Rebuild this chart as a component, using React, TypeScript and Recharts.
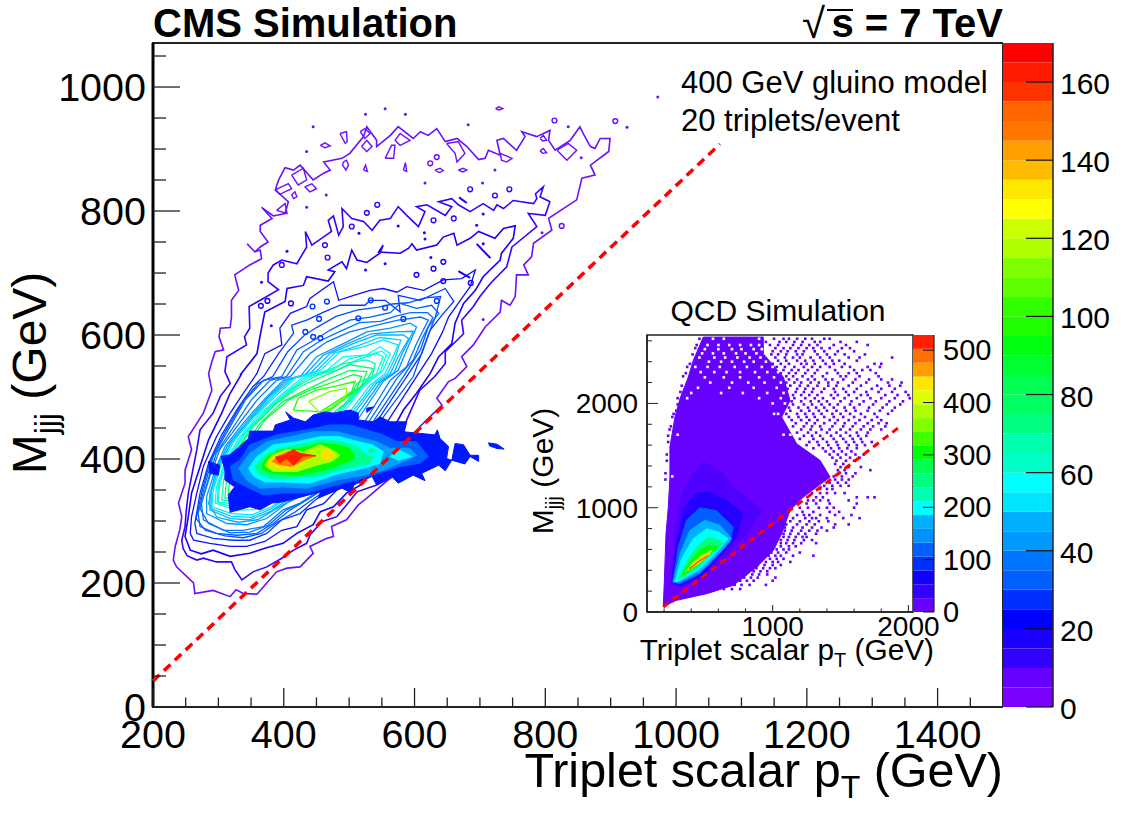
import { Bar, BarChart, ReferenceArea, Scatter, ScatterChart, XAxis, YAxis } from "recharts";

const FONT = "'Liberation Sans', Arial, sans-serif";

// ---- main panel axes
const xTicks = [200, 250, 300, 350, 400, 450, 500, 550, 600, 650, 700, 750, 800, 850, 900, 950, 1000, 1050, 1100, 1150, 1200, 1250, 1300, 1350, 1400, 1450];
const xLabels = [200, 400, 600, 800, 1000, 1200, 1400];
const yTicks = [0, 50, 100, 150, 200, 250, 300, 350, 400, 450, 500, 550, 600, 650, 700, 750, 800, 850, 900, 950, 1000, 1050];
const yLabels = [0, 200, 400, 600, 800, 1000];
const cutLine = [[200, 42], [1067, 908]];

// ---- main panel contours, x = pT (GeV), y = Mjjj (GeV)
const contour5 = [[563, 369], [547, 355], [527, 337], [514, 326], [496, 302], [473, 291], [476, 275], [466, 272], [440, 259], [445, 248], [425, 226], [405, 224], [389, 218], [369, 194], [359, 182], [338, 183], [327, 189], [318, 178], [292, 188], [264, 183], [262, 200], [236, 226], [231, 237], [234, 259], [241, 286], [244, 307], [239, 329], [249, 361], [249, 382], [259, 415], [254, 436], [277, 474], [290, 511], [285, 538], [290, 557], [295, 573], [308, 576], [301, 597], [303, 611], [318, 612], [320, 629], [320, 656], [331, 672], [325, 697], [348, 713], [366, 723], [364, 737], [356, 734], [344, 747], [356, 734], [364, 742], [376, 750], [364, 767], [364, 777], [382, 788], [366, 806], [384, 792], [402, 796], [407, 815], [387, 834], [392, 850], [402, 870], [415, 866], [425, 874], [445, 850], [461, 861], [471, 866], [461, 879], [489, 885], [501, 893], [522, 920], [527, 936], [542, 914], [542, 904], [563, 922], [575, 936], [598, 917], [609, 928], [621, 922], [634, 933], [647, 912], [665, 917], [680, 904], [698, 883], [708, 885], [713, 898], [731, 890], [726, 914], [736, 917], [756, 898], [769, 920], [764, 928], [787, 920], [807, 930], [805, 914], [815, 898], [838, 914], [853, 936], [858, 925], [869, 904], [876, 901], [884, 917], [899, 917], [897, 896], [869, 874], [876, 858], [856, 853], [848, 818], [805, 788], [810, 769], [782, 748], [779, 726], [767, 713], [774, 697], [756, 697], [754, 662], [746, 648], [733, 656], [731, 637], [708, 613], [690, 584], [672, 565], [680, 549], [662, 530], [652, 525], [634, 498], [642, 487], [608, 452], [588, 398]];
const contour10 = [[568, 372], [542, 358], [512, 347], [496, 326], [481, 307], [458, 299], [440, 277], [435, 264], [415, 253], [397, 240], [374, 226], [353, 218], [336, 205], [325, 222], [320, 234], [297, 234], [277, 240], [267, 237], [252, 244], [246, 256], [244, 269], [249, 291], [251, 318], [254, 345], [262, 388], [267, 415], [272, 447], [292, 474], [303, 501], [318, 522], [310, 541], [313, 565], [343, 584], [340, 597], [348, 611], [347, 646], [364, 656], [392, 673], [376, 686], [376, 700], [384, 713], [397, 721], [420, 715], [435, 742], [433, 767], [443, 745], [473, 767], [468, 785], [476, 792], [484, 761], [491, 775], [489, 804], [504, 788], [522, 783], [535, 769], [547, 785], [563, 788], [575, 807], [588, 793], [606, 775], [616, 799], [603, 807], [619, 810], [647, 793], [657, 807], [637, 815], [657, 820], [667, 810], [685, 799], [705, 812], [721, 801], [726, 810], [736, 804], [751, 817], [782, 812], [787, 820], [785, 828], [797, 839], [792, 823], [807, 815], [800, 793], [774, 796], [787, 775], [756, 748], [749, 742], [741, 710], [716, 683], [700, 662], [690, 646], [672, 624], [675, 602], [647, 573], [647, 554], [631, 533], [608, 511], [588, 463]];
const contour15 = [[522, 361], [496, 345], [476, 323], [456, 315], [445, 294], [420, 280], [399, 264], [371, 256], [348, 248], [318, 243], [292, 253], [274, 247], [257, 253], [249, 275], [254, 307], [259, 345], [272, 388], [285, 431], [305, 474], [318, 506], [336, 538], [333, 535], [359, 570], [364, 600], [371, 637], [402, 654], [405, 675], [430, 680], [435, 694], [468, 687], [478, 702], [468, 705], [489, 718], [496, 707], [504, 737], [512, 721], [527, 717], [547, 732], [552, 745], [545, 734], [578, 732], [591, 740], [596, 747], [603, 737], [634, 745], [644, 758], [660, 764], [665, 745], [685, 756], [698, 767], [723, 756], [736, 772], [754, 776], [751, 756], [733, 732], [731, 721], [705, 694], [693, 672], [675, 651], [662, 619], [657, 586], [637, 565], [624, 538], [603, 506], [583, 479]];
const contour20 = [[359, 538], [371, 570], [397, 584], [394, 611], [410, 635], [435, 646], [440, 659], [476, 686], [484, 656], [507, 664], [532, 672], [552, 675], [573, 669], [588, 678], [614, 672], [644, 689], [672, 691], [693, 705], [685, 678], [670, 656], [652, 629], [642, 603], [626, 570], [603, 533], [501, 366], [481, 350], [461, 328], [435, 318], [420, 291], [397, 285], [371, 267], [343, 259], [318, 259], [287, 264], [262, 269], [257, 280], [259, 307], [267, 345], [277, 388], [297, 436], [318, 474], [338, 506]];
const contour25 = [[369, 533], [392, 570], [415, 603], [412, 616], [435, 624], [461, 637], [486, 648], [524, 648], [532, 656], [555, 656], [578, 637], [575, 664], [609, 656], [647, 675], [660, 654], [642, 632], [624, 608], [611, 570], [588, 533], [476, 355], [445, 331], [425, 312], [397, 302], [374, 280], [348, 269], [323, 269], [292, 272], [267, 280], [264, 296], [272, 345], [285, 393], [305, 439], [331, 484], [353, 517]];
const contour27 = [[383, 533], [406, 573], [432, 600], [450, 612], [480, 630], [512, 640], [545, 645], [566, 650], [590, 652], [616, 660], [640, 662], [632, 630], [618, 592], [598, 533], [474, 356], [440, 332], [418, 315], [390, 298], [366, 280], [338, 273], [310, 276], [280, 285], [266, 304], [276, 353], [288, 398], [310, 443], [336, 490], [361, 522]];
const contour30 = [[397, 533], [420, 576], [450, 594], [471, 608], [501, 624], [532, 629], [563, 636], [578, 651], [603, 643], [626, 648], [637, 635], [621, 613], [609, 576], [583, 533], [471, 358], [435, 334], [410, 318], [384, 296], [359, 280], [328, 277], [297, 280], [272, 291], [269, 312], [280, 361], [292, 404], [315, 447], [341, 495], [369, 527]];
const contour32 = [[404, 533], [430, 573], [458, 592], [486, 606], [516, 620], [548, 622], [570, 630], [594, 636], [620, 636], [628, 628], [612, 595], [598, 560], [573, 530], [466, 355], [430, 331], [404, 318], [376, 293], [348, 282], [318, 281], [285, 296], [272, 320], [284, 366], [297, 410], [322, 450], [350, 495], [379, 527]];
const contour35 = [[410, 533], [440, 570], [466, 589], [501, 605], [542, 616], [575, 624], [609, 629], [621, 624], [603, 586], [588, 549], [563, 527], [461, 353], [425, 329], [399, 318], [369, 291], [338, 285], [308, 285], [277, 302], [274, 329], [287, 372], [302, 415], [328, 452], [359, 495], [389, 527]];
const contour40 = [[425, 533], [450, 565], [491, 586], [527, 605], [563, 611], [593, 619], [603, 613], [588, 576], [575, 543], [552, 525], [440, 347], [405, 329], [374, 304], [343, 294], [313, 296], [282, 312], [282, 339], [295, 382], [310, 420], [338, 458], [369, 495], [399, 527]];
const contour42 = [[432, 535], [460, 567], [498, 586], [534, 602], [572, 605], [598, 606], [581, 570], [569, 540], [547, 523], [425, 342], [392, 322], [360, 302], [330, 298], [298, 306], [285, 328], [297, 385], [314, 422], [343, 460], [374, 498], [404, 528]];
const contour45 = [[440, 538], [471, 570], [506, 586], [542, 600], [583, 600], [591, 594], [575, 565], [563, 538], [542, 522], [410, 337], [379, 315], [348, 302], [318, 304], [287, 318], [287, 345], [300, 388], [318, 425], [348, 463], [379, 501], [410, 530]];
const contour47 = [[448, 540], [478, 571], [514, 583], [547, 596], [579, 592], [570, 562], [559, 538], [537, 520], [407, 340], [380, 319], [350, 306], [319, 308], [289, 320], [289, 347], [302, 390], [321, 428], [350, 464], [384, 502], [415, 531]];
const contour50 = [[456, 543], [486, 573], [522, 581], [552, 592], [575, 584], [565, 560], [555, 538], [532, 519], [404, 342], [382, 323], [351, 310], [320, 312], [290, 323], [292, 350], [305, 393], [325, 431], [353, 466], [389, 503], [420, 533]];
const contour55 = [[466, 543], [491, 565], [527, 568], [547, 581], [563, 570], [552, 543], [522, 517], [384, 331], [353, 318], [325, 318], [295, 329], [297, 355], [310, 396], [333, 436], [364, 474], [399, 506], [430, 533]];
const contour57 = [[473, 543], [501, 562], [534, 569], [550, 574], [557, 568], [547, 540], [518, 515], [372, 330], [342, 322], [314, 325], [298, 330], [300, 358], [312, 397], [337, 438], [369, 476], [404, 508], [435, 533]];
const contour60 = [[481, 543], [512, 560], [542, 570], [552, 565], [542, 538], [514, 514], [359, 328], [331, 326], [300, 331], [302, 361], [315, 398], [341, 441], [374, 479], [410, 511], [440, 533]];
const contour65 = [[456, 538], [491, 554], [527, 560], [540, 554], [535, 533], [512, 522], [496, 490], [359, 337], [333, 331], [305, 334], [308, 366], [320, 401], [348, 447], [382, 484], [420, 517]];
const contour70 = [[466, 536], [501, 552], [537, 546], [527, 527], [501, 495], [481, 479], [336, 337], [310, 337], [313, 372], [325, 406], [353, 452], [389, 490], [425, 517]];
const contour75 = [[471, 530], [501, 543], [527, 541], [519, 517], [491, 495], [468, 476], [331, 342], [315, 342], [318, 374], [333, 409], [364, 458], [399, 493], [433, 511]];
const contour80 = [[478, 525], [506, 536], [519, 533], [512, 514], [486, 493], [323, 361], [341, 415], [371, 463], [407, 495], [440, 511]];
const contour85 = [[486, 519], [509, 525], [504, 509], [481, 493], [456, 476], [415, 479], [422, 498], [450, 511]];
const contour90 = [[438, 493], [471, 509], [496, 514], [496, 501], [471, 482], [456, 474]];
const contourTraces = [contour5, contour10, contour15, contour20, contour25, contour27, contour30, contour32, contour35, contour40, contour42, contour45, contour47, contour50, contour55, contour57, contour60, contour65, contour70, contour75, contour80, contour85, contour90];
const contourColors = ["#6a10ff", "#3a00ff", "#1c00ff", "#0a10ff", "#0038ff", "#0050ff", "#0060ff", "#0070ff", "#0078ff", "#0098ff", "#00a8ff", "#00b8ff", "#00d0ff", "#00e5ff", "#00ffff", "#00ffe0", "#00ffc8", "#00ffb0", "#00ff80", "#00ff60", "#00ff30", "#20ff00", "#80ff00"];

// closed islands at the lowest level
const islands5 = [
  [[486, 925], [496, 928], [497, 912], [494, 909]],
  [[517, 928], [524, 933], [532, 925], [524, 917]],
  [[519, 904], [527, 914], [535, 904], [527, 896]],
  [[570, 914], [578, 925], [593, 914], [578, 906]],
  [[555, 885], [565, 906], [570, 906], [568, 885]],
  [[649, 909], [667, 912], [677, 893], [665, 879], [662, 893]],
  [[731, 893], [749, 885], [741, 879], [733, 882]],
  [[818, 898], [835, 909], [848, 898], [833, 882]],
  [[412, 858], [430, 869], [435, 850], [422, 842]],
  [[387, 834], [407, 844], [412, 836], [394, 827]],
  [[432, 839], [443, 844], [450, 836], [440, 831]],
  [[412, 826], [417, 831], [420, 823], [415, 820]],
  [[389, 801], [402, 812], [405, 796]],
  [[456, 906], [463, 910], [471, 905], [463, 902]],
  [[491, 879], [496, 882], [499, 874], [495, 866], [490, 874]],
  [[522, 866], [525, 874], [528, 864]],
  [[583, 866], [586, 878], [588, 864]],
  [[631, 866], [639, 869], [644, 865], [638, 862]],
  [[667, 866], [674, 869], [680, 866], [674, 863]],
  [[792, 897], [797, 901], [802, 894], [796, 893]],
  [[792, 917], [797, 922], [802, 914], [796, 913]],
  [[724, 965], [729, 968], [735, 965], [729, 963]],
];
const rings5 = [[814, 946], [907, 945], [825, 776], [624, 877], [634, 887]];
const dots5 = [[525, 956], [555, 965], [586, 956], [925, 935], [682, 939], [435, 896], [445, 936], [835, 936], [855, 886], [723, 866], [465, 826], [435, 806], [972, 984], [705, 625], [795, 765], [616, 845], [704, 845]];
const rings10 = [[463, 745], [467, 725], [504, 775], [527, 797], [543, 810], [629, 785], [660, 788], [723, 825], [685, 835], [745, 835], [397, 713]];
const rings15 = [[603, 697], [629, 707], [644, 718], [644, 687], [686, 684], [365, 647], [375, 655], [411, 651]];
const rings25 = [[444, 646], [466, 654], [514, 627], [555, 644], [533, 656], [583, 626], [634, 655], [433, 605], [445, 597], [456, 595], [454, 626]];
const dots15 = [[705, 795], [695, 777], [615, 765], [616, 755], [575, 776], [515, 764], [405, 735], [555, 715], [525, 705], [625, 725], [705, 747], [366, 685], [381, 615]];
const strokes10 = [[[695, 747], [716, 724]], [[667, 703], [685, 692]], [[668, 822], [680, 813]]];

// ---- filled contours of the correct-triplet sample, outermost first
const blobOuter = [[304, 404], [318, 407], [346, 433], [348, 445], [384, 445], [387, 455], [410, 463], [403, 476], [415, 466], [433, 460], [445, 471], [463, 476], [476, 474], [501, 479], [514, 474], [514, 463], [537, 460], [547, 468], [563, 460], [588, 460], [583, 444], [631, 439], [635, 447], [639, 433], [652, 420], [649, 401], [657, 398], [662, 425], [675, 423], [685, 406], [698, 406], [698, 396], [685, 404], [677, 392], [657, 398], [647, 381], [637, 390], [611, 377], [616, 365], [598, 374], [575, 361], [565, 372], [542, 358], [535, 372], [507, 358], [504, 345], [489, 353], [453, 337], [456, 347], [399, 331], [382, 329], [364, 318], [348, 323], [318, 314], [315, 342], [325, 355], [310, 366], [310, 382]];
const blobIsland1 = [[713, 426], [726, 424], [737, 416], [726, 417], [715, 421]];
const blobIsland2 = [[285, 396], [302, 390], [300, 374], [287, 377]];
const blobIsland3 = [[527, 482], [537, 484], [527, 475]];
const blob2 = [[318, 388], [333, 398], [348, 423], [389, 439], [435, 447], [471, 455], [501, 455], [527, 447], [552, 439], [573, 428], [603, 428], [621, 404], [608, 393], [578, 388], [512, 366], [481, 358], [435, 345], [399, 345], [369, 342], [343, 355], [323, 366]];
const blob3 = [[331, 385], [348, 409], [374, 428], [410, 436], [445, 444], [481, 444], [512, 436], [542, 428], [563, 417], [593, 417], [603, 406], [583, 396], [552, 382], [522, 374], [481, 366], [435, 353], [399, 355], [364, 353], [343, 366]];
const blob4 = [[346, 385], [359, 404], [384, 423], [420, 428], [456, 436], [486, 436], [514, 428], [535, 423], [552, 412], [547, 393], [522, 385], [486, 377], [440, 361], [399, 363], [371, 363], [354, 372]];
const blob4b = [[563, 404], [575, 415], [596, 404], [575, 398]];
const blob5 = [[356, 388], [369, 404], [392, 417], [425, 423], [456, 431], [486, 428], [512, 420], [527, 406], [537, 404], [532, 393], [496, 385], [450, 372], [410, 369], [379, 369], [361, 377]];
const blob5b = [[529, 415], [537, 417], [540, 412], [532, 409]];
const blob6 = [[366, 388], [374, 404], [397, 415], [425, 417], [456, 425], [481, 423], [501, 417], [509, 401], [499, 396], [461, 382], [420, 374], [384, 377], [369, 382]];
const blob7 = [[371, 390], [382, 406], [404, 415], [430, 412], [456, 423], [473, 415], [486, 406], [473, 396], [450, 390], [420, 380], [384, 380]];
const blob8 = [[374, 393], [384, 404], [404, 412], [425, 409], [440, 401], [415, 385], [392, 385]];
const blob8b = [[461, 415], [468, 417], [478, 406], [466, 398], [458, 404]];
const blob9 = [[382, 396], [392, 405], [407, 412], [422, 410], [448, 405], [430, 398], [412, 388], [394, 391]];
const blob10 = [[387, 403], [399, 406], [415, 415], [425, 409], [449, 405], [430, 405], [415, 390], [404, 401], [394, 393]];
const blobTraces = [blobOuter, blobIsland1, blobIsland2, blobIsland3, blob2, blob3, blob4, blob4b, blob5, blob5b, blob6, blob7, blob8, blob8b, blob9, blob10];
const blobColors = ["#0018ff", "#0018ff", "#0018ff", "#0018ff", "#0060ff", "#00a0ff", "#00ffff", "#00ffff", "#00ff90", "#00ff90", "#00ff00", "#b0ff00", "#ffe000", "#ffe000", "#ff8000", "#ff2000"];

// ---- main palette, bottom to top
const paletteColors = ["#7a00ff", "#6600ff", "#3300ff", "#1a00ff", "#0000ff", "#0030ff", "#0060ff", "#0075ff", "#0099ff", "#00b0ff", "#00e5ff", "#00ffff", "#00ffc8", "#00ffb0", "#00ff80", "#00ff60", "#00ff50", "#00ff30", "#00ff10", "#20ff00", "#30ff00", "#60ff00", "#80ff00", "#b0ff00", "#ccff00", "#ffff00", "#ffe800", "#ffbb00", "#ff9f00", "#ff7700", "#ff6600", "#ff3300", "#ff1a00", "#ff0000"];
const paletteStep = 5;
const paletteTicks = [0, 20, 40, 60, 80, 100, 120, 140, 160];

// ---- inset
const insetXTicks = [200, 400, 600, 800, 1000, 1200, 1400, 1600, 1800, 2000];
const insetXLabels = [1000, 2000];
const insetYTicks = [0, 200, 400, 600, 800, 1000, 1200, 1400, 1600, 1800, 2000, 2200, 2400, 2600];
const insetYLabels = [0, 1000, 2000];
const insetCut = [[194, 48], [1943, 1783]];
const insetBands = [
  [[194, 54], [201, 272], [214, 751], [231, 1006], [243, 1294], [243, 1582], [280, 1869], [317, 2045], [378, 2252], [415, 2412], [489, 2636], [931, 2636], [931, 2476], [1079, 2252], [1128, 2029], [1066, 1869], [1177, 1613], [1349, 1454], [1423, 1294], [1324, 1198], [1226, 1102], [1128, 974], [1066, 751], [1005, 591], [882, 431], [710, 256], [514, 176], [292, 112]],
  [[256, 272], [280, 751], [317, 1070], [391, 1294], [489, 1438], [612, 1358], [734, 1166], [931, 974], [784, 719], [661, 559], [489, 335], [317, 240]],
  [[256, 288], [292, 671], [341, 974], [427, 1134], [538, 1150], [661, 1070], [780, 940], [734, 719], [636, 575], [477, 351], [317, 256]],
  [[263, 288], [305, 623], [366, 879], [464, 1000], [587, 970], [710, 815], [685, 671], [587, 527], [464, 367], [317, 272]],
  [[268, 288], [317, 559], [391, 783], [501, 879], [612, 831], [698, 703], [612, 575], [477, 399], [317, 288]],
  [[280, 288], [329, 511], [415, 703], [513, 799], [600, 767], [673, 703], [600, 591], [464, 415], [317, 304]],
  [[305, 320], [366, 479], [440, 623], [526, 719], [612, 687], [636, 655], [563, 575], [452, 431], [341, 335]],
  [[329, 351], [391, 479], [464, 591], [538, 639], [600, 623], [538, 559], [440, 447], [353, 367]],
  [[353, 383], [415, 479], [477, 543], [550, 591], [526, 543], [427, 447]],
  [[370, 406], [427, 479], [501, 543], [538, 559], [452, 463]],
  [[385, 415], [464, 495], [526, 543], [452, 479]],
];
const insetBandColors = ["#6600ff", "#5000ff", "#2400ff", "#0060ff", "#00b0ff", "#00ffff", "#00ff80", "#00ff00", "#b0ff00", "#ffe000", "#ff4000"];
// [y, ...x] rows of single filled bins around the solid region
const speckRows = [
  [2620, 460, 720, 790, 860, 1010, 1080, 1120, 1180, 1240, 1290, 1380, 1420],
  [2590, 500, 950, 1050, 1100, 1160, 1220, 1310, 1350, 1500, 1620],
  [2560, 440, 980, 1040, 1150, 1210, 1270, 1330, 1450, 1540, 1700],
  [2530, 430, 1020, 1080, 1130, 1190, 1250, 1300, 1360, 1420, 1510, 1570],
  [2500, 1000, 1060, 1110, 1170, 1230, 1310, 1380, 1480, 1600],
  [2470, 410, 990, 1040, 1100, 1180, 1220, 1330, 1400, 1460, 1530, 1680],
  [2440, 1020, 1090, 1150, 1200, 1280, 1350, 1420, 1560, 1640, 1880],
  [2410, 1040, 1100, 1180, 1240, 1300, 1370, 1440, 1490, 1620],
  [2380, 390, 1000, 1060, 1120, 1210, 1250, 1310, 1390, 1450, 1530, 1750, 1800],
  [2350, 370, 1030, 1090, 1160, 1230, 1290, 1350, 1420, 1510, 1570, 1700, 1790],
  [2320, 1010, 1080, 1140, 1190, 1260, 1330, 1460, 1600, 1660, 1720],
  [2290, 360, 1060, 1120, 1170, 1240, 1310, 1400, 1480, 1560, 1620, 1760],
  [2260, 340, 1030, 1100, 1150, 1220, 1290, 1370, 1500, 1540, 1640, 1780],
  [2230, 1120, 1180, 1260, 1310, 1390, 1440, 1520, 1610, 1710, 1800, 1880],
  [2200, 1100, 1160, 1210, 1280, 1340, 1410, 1480, 1590, 1690, 1850, 1950],
  [2170, 330, 1130, 1200, 1260, 1330, 1410, 1470, 1560, 1650, 1770, 1860, 1940],
  [2140, 1110, 1180, 1240, 1300, 1380, 1450, 1520, 1620, 1730, 1800, 1900],
  [2110, 320, 1170, 1230, 1290, 1360, 1460, 1540, 1600, 1690, 1780, 1880, 1980],
  [2080, 340, 1150, 1210, 1270, 1330, 1430, 1480, 1560, 1650, 1700, 1830, 1920, 2000],
  [2050, 300, 1160, 1240, 1310, 1370, 1450, 1530, 1620, 1720, 1800, 1900, 2010],
  [2020, 1140, 1210, 1280, 1340, 1400, 1500, 1580, 1670, 1760, 1860, 1960],
  [1990, 300, 1150, 1230, 1290, 1360, 1420, 1480, 1570, 1640, 1740, 1840, 1940],
  [1960, 1120, 1190, 1260, 1320, 1380, 1450, 1530, 1600, 1710, 1810, 1900],
  [1930, 290, 1130, 1210, 1270, 1340, 1400, 1470, 1540, 1610, 1700, 1790, 1880],
  [1900, 270, 1100, 1180, 1240, 1300, 1360, 1440, 1500, 1570, 1650, 1750, 1850],
  [1870, 260, 1120, 1190, 1250, 1310, 1380, 1450, 1520, 1600, 1680, 1770],
  [1840, 1140, 1210, 1270, 1330, 1420, 1480, 1560, 1640, 1730, 1800],
  [1810, 1170, 1250, 1310, 1380, 1460, 1530, 1610, 1700, 1780, 1840],
  [1780, 250, 1150, 1230, 1290, 1350, 1440, 1520, 1590, 1670, 1740, 1830],
  [1750, 240, 1210, 1280, 1360, 1420, 1500, 1570, 1650, 1720, 1800],
  [1720, 1180, 1260, 1320, 1400, 1470, 1540, 1620, 1700],
  [1690, 230, 1230, 1290, 1350, 1430, 1500, 1570, 1630, 1690],
  [1660, 1200, 1300, 1370, 1450, 1520, 1590, 1650],
  [1630, 230, 1270, 1330, 1400, 1470, 1540, 1600, 1660, 1730],
  [1600, 1250, 1340, 1410, 1480, 1560, 1620, 1680],
  [1570, 1300, 1370, 1430, 1490, 1550, 1620],
  [1540, 1390, 1450, 1510, 1580],
  [1510, 220, 1420, 1480, 1540, 1610, 1670],
  [1480, 1440, 1500, 1570, 1640],
  [1450, 220, 1470, 1540, 1600],
  [1420, 1460, 1520],
  [1390, 1500, 1560, 1650],
  [1360, 1480, 1530, 1720],
  [1330, 210, 1490, 1540, 1610],
  [1300, 1450, 1510, 1590],
  [1270, 210, 1460, 1510, 1560],
  [1240, 1420, 1480, 1540],
  [1210, 1380, 1440, 1500, 1560],
  [1180, 1350, 1400, 1440],
  [1140, 1290, 1350, 1400, 1460, 1530],
  [1100, 1320, 1370, 1620, 1700, 1750],
  [1070, 1260, 1300, 1350, 1410, 1560],
  [1040, 1250, 1320, 1420, 1620],
  [1000, 1200, 1260, 1340, 1400, 1450, 1600],
  [960, 1220, 1300, 1420, 1490],
  [930, 1180, 1230, 1270, 1350, 1460, 1580],
  [900, 1150, 1240, 1290, 1320, 1400, 1520, 1640],
  [870, 1130, 1200, 1270, 1340, 1410],
  [840, 1100, 1180, 1250, 1310, 1460, 1560],
  [810, 1090, 1150, 1220, 1290, 1360, 1450],
  [780, 1090, 1140, 1210, 1270, 1330, 1400],
  [750, 1080, 1130, 1190, 1240, 1320],
  [720, 1080, 1120, 1170, 1220, 1250],
  [690, 1060, 1110, 1160, 1230, 1290],
  [660, 1020, 1060, 1100, 1150, 1210, 1320],
  [630, 1010, 1060, 1120, 1170],
  [600, 980, 1030, 1080, 1120],
  [570, 990, 1040, 1100, 1200],
  [540, 970, 1020, 1060, 1150, 1300],
  [510, 920, 980, 1030, 1080],
  [480, 900, 950, 1000, 1040, 1130],
  [450, 890, 940, 1000, 1060],
  [420, 880, 930, 980, 1020],
  [390, 860, 910, 960],
  [360, 800, 850, 900, 960],
  [330, 790, 840, 890, 1020],
  [300, 760, 810, 860, 1000],
  [260, 720, 770, 830, 950],
  [220, 640, 700, 760],
];
const holeRows = [
  [2620, 560, 640, 900],
  [2560, 520, 600, 680, 760, 840, 900],
  [2520, 500, 600, 700, 770, 860, 920],
  [2480, 480, 560, 640, 730, 800, 880],
  [2440, 460, 570, 650, 740, 830, 910, 990],
  [2400, 530, 620, 700, 790, 860, 950],
  [2350, 430, 520, 610, 720, 810, 920, 1000],
  [2300, 470, 570, 660, 760, 870, 960, 1040],
  [2250, 500, 640, 760, 900, 1010],
  [2200, 540, 700, 820, 940, 1060],
  [2150, 450, 680, 860, 1030],
  [2100, 400, 620, 780, 960, 1080],
  [2050, 370, 900, 1060],
  [2000, 1000, 1090],
  [1900, 1010, 1040],
  [1700, 300, 1080, 1130],
  [1300, 260],
];
const insetPaletteColors = ["#6600ff", "#3300ff", "#1000ff", "#0030ff", "#0060ff", "#0090ff", "#00b0ff", "#00ffff", "#00ffb0", "#00ff80", "#00ff50", "#00ff00", "#40ff00", "#80ff00", "#b0ff00", "#dfff00", "#ffe800", "#ffa000", "#ff7000", "#ff2000"];
const insetPaletteStep = 26.45;
const insetPaletteTicks = [0, 100, 200, 300, 400, 500];

const toPoints = (arr: number[][]) => arr.map(([x, y]) => ({ x, y }));
const closed = (arr: number[][]) => toPoints([...arr, arr[0]]);
const rowsToPoints = (rows: number[][]) =>
  rows.flatMap(([y, ...xs]) => xs.map((x) => ({ x, y })));

const noDot = () => <g />;
const ring = (color: string) => (p: any) => (
  <circle cx={p.cx} cy={p.cy} r={2.4} fill="none" stroke={color} strokeWidth={1.4} />
);
const dot = (color: string) => (p: any) => <circle cx={p.cx} cy={p.cy} r={1.5} fill={color} />;
const bin = (color: string) => (p: any) => (
  <rect x={p.cx - 1.3} y={p.cy - 1.3} width={2.6} height={2.6} fill={color} />
);

function MainXTick({ x, y, payload }: any) {
  const major = xLabels.includes(payload.value);
  return (
    <g>
      <line x1={x} x2={x} y1={y} y2={y - (major ? 19 : 9.5)} stroke="#222" strokeWidth={1.3} />
      {major && (
        <text x={x} y={748} textAnchor="middle" fontFamily={FONT} fontSize={39.5} fill="#000">
          {payload.value}
        </text>
      )}
    </g>
  );
}

function MainYTick({ x, y, payload }: any) {
  const major = yLabels.includes(payload.value);
  return (
    <g>
      <line x1={x} x2={x + (major ? 27 : 13)} y1={y} y2={y} stroke="#222" strokeWidth={1.3} />
      {major && (
        <text x={x - 7} y={y + 14} textAnchor="end" fontFamily={FONT} fontSize={39.5} fill="#000">
          {payload.value}
        </text>
      )}
    </g>
  );
}

function PaletteTick({ x, y, payload }: any) {
  return (
    <g>
      <line x1={x - 27} x2={x} y1={y} y2={y} stroke="#111" strokeWidth={1.2} />
      <text x={x + 7} y={y + 12} fontFamily={FONT} fontSize={30} fill="#000">
        {payload.value}
      </text>
    </g>
  );
}

function InsetXTick({ x, y, payload }: any) {
  const major = insetXLabels.includes(payload.value);
  return (
    <g>
      <line x1={x} x2={x} y1={y} y2={y - (major ? 7 : 3.5)} stroke="#222" strokeWidth={1} />
      {major && (
        <text x={x} y={636} textAnchor="middle" fontFamily={FONT} fontSize={28} fill="#000">
          {payload.value}
        </text>
      )}
    </g>
  );
}

function InsetYTick({ x, y, payload }: any) {
  const major = insetYLabels.includes(payload.value);
  return (
    <g>
      <line x1={x} x2={x + (major ? 11 : 5)} y1={y} y2={y} stroke="#222" strokeWidth={1} />
      {major && (
        <text x={x - 9} y={y + 10} textAnchor="end" fontFamily={FONT} fontSize={28} fill="#000">
          {payload.value}
        </text>
      )}
    </g>
  );
}

function InsetPaletteTick({ x, y, payload }: any) {
  return (
    <g>
      <line x1={x - 11} x2={x} y1={y} y2={y} stroke="#111" strokeWidth={1} />
      <text x={x + 9} y={y + 10} fontFamily={FONT} fontSize={29} fill="#000">
        {payload.value}
      </text>
    </g>
  );
}

const paletteRow: Record<string, number> = { name: 0 } as any;
paletteColors.forEach((_, i) => (paletteRow[`b${i}`] = paletteStep));
const insetPaletteRow: Record<string, number> = { name: 0 } as any;
insetPaletteColors.forEach((_, i) => (insetPaletteRow[`b${i}`] = insetPaletteStep));

const layer = { position: "absolute", left: 0, top: 0 } as const;

export default function App() {
  return (
    <div style={{ position: "absolute", left: 0, top: 0, width: 1121, height: 815, background: "#fff", overflow: "hidden" }}>
      {/* main panel */}
      <div style={layer}>
        <ScatterChart width={1003} height={815} margin={{ top: 43, right: 0, bottom: 48, left: 0 }}>
          <XAxis type="number" dataKey="x" domain={[200, 1500]} ticks={xTicks} interval={0} height={60} tickLine={false} tickSize={0} tickMargin={0} tick={MainXTick} stroke="#222" strokeWidth={2} />
          <YAxis type="number" dataKey="y" domain={[0, 1071]} ticks={yTicks} interval={0} width={153} tickLine={false} tickSize={0} tickMargin={0} tick={MainYTick} stroke="#000" strokeWidth={3} />
          {contourTraces.map((trace, i) => (
            <Scatter key={i} data={closed(trace)} shape={noDot} line={{ stroke: contourColors[i], strokeWidth: i < 3 ? 1.6 : 1.3 }} isAnimationActive={false} />
          ))}
          {islands5.map((trace, i) => (
            <Scatter key={`i${i}`} data={closed(trace)} shape={noDot} line={{ stroke: contourColors[0], strokeWidth: 1.4 }} isAnimationActive={false} />
          ))}
          {strokes10.map((trace, i) => (
            <Scatter key={`s${i}`} data={toPoints(trace)} shape={noDot} line={{ stroke: contourColors[2], strokeWidth: 2 }} isAnimationActive={false} />
          ))}
          <Scatter data={toPoints(rings5)} shape={ring(contourColors[0])} isAnimationActive={false} />
          <Scatter data={toPoints(dots5)} shape={dot(contourColors[0])} isAnimationActive={false} />
          <Scatter data={toPoints(rings10)} shape={ring(contourColors[1])} isAnimationActive={false} />
          <Scatter data={toPoints(rings15)} shape={ring(contourColors[2])} isAnimationActive={false} />
          <Scatter data={toPoints(rings25)} shape={ring(contourColors[4])} isAnimationActive={false} />
          <Scatter data={toPoints(dots15)} shape={dot(contourColors[2])} isAnimationActive={false} />
          {blobTraces.map((trace, i) => (
            <Scatter key={`b${i}`} data={closed(trace)} shape={noDot} line={{ stroke: blobColors[i], fill: blobColors[i], strokeWidth: 1 }} isAnimationActive={false} />
          ))}
          <Scatter data={toPoints(cutLine)} shape={noDot} line={{ stroke: "#ff0000", strokeWidth: 3.5, strokeDasharray: "9 6" }} isAnimationActive={false} />
          <ReferenceArea x1={200} x2={1500} y1={0} y2={1071} fill="none" stroke="#222" strokeWidth={2} ifOverflow="visible" />
        </ScatterChart>
      </div>

      {/* main palette */}
      <div style={{ ...layer, left: 1003 }}>
        <BarChart width={118} height={815} data={[paletteRow]} margin={{ top: 43, right: 0, bottom: 108, left: 0 }} barCategoryGap={0}>
          <XAxis dataKey="name" hide />
          <YAxis orientation="right" type="number" domain={[0, 170]} ticks={paletteTicks} interval={0} width={68} tickLine={false} tickSize={0} tickMargin={0} tick={PaletteTick} stroke="#222" strokeWidth={1.5} />
          {paletteColors.map((c, i) => (
            <Bar key={i} dataKey={`b${i}`} stackId="z" fill={c} isAnimationActive={false} />
          ))}
        </BarChart>
      </div>

      {/* inset panel */}
      <div style={layer}>
        <ScatterChart width={1121} height={815} margin={{ top: 335, right: 208, bottom: 163, left: 0 }}>
          <XAxis type="number" dataKey="x" domain={[74, 2034]} ticks={insetXTicks} interval={0} height={40} tickLine={false} tickSize={0} tickMargin={0} tick={InsetXTick} stroke="#222" strokeWidth={1.5} />
          <YAxis type="number" dataKey="y" domain={[0, 2656]} ticks={insetYTicks} interval={0} width={647} tickLine={false} tickSize={0} tickMargin={0} tick={InsetYTick} stroke="#222" strokeWidth={1.5} />
          <Scatter data={rowsToPoints(speckRows)} shape={bin("#6600ff")} isAnimationActive={false} />
          {insetBands.map((trace, i) => (
            <Scatter key={i} data={closed(trace)} shape={noDot} line={{ stroke: insetBandColors[i], fill: insetBandColors[i], strokeWidth: 1 }} isAnimationActive={false} />
          ))}
          <Scatter data={rowsToPoints(holeRows)} shape={bin("#ffffff")} isAnimationActive={false} />
          <Scatter data={toPoints(insetCut)} shape={noDot} line={{ stroke: "#ff0000", strokeWidth: 3, strokeDasharray: "7 5" }} isAnimationActive={false} />
          <ReferenceArea x1={74} x2={2034} y1={0} y2={2656} fill="none" stroke="#222" strokeWidth={1.5} ifOverflow="visible" />
        </ScatterChart>
      </div>

      {/* inset palette */}
      <div style={{ ...layer, left: 913 }}>
        <BarChart width={100} height={815} data={[insetPaletteRow]} margin={{ top: 335, right: 0, bottom: 203, left: 0 }} barCategoryGap={0}>
          <XAxis dataKey="name" hide />
          <YAxis orientation="right" type="number" domain={[0, 529]} ticks={insetPaletteTicks} interval={0} width={79} tickLine={false} tickSize={0} tickMargin={0} tick={InsetPaletteTick} stroke="#222" strokeWidth={1.2} />
          {insetPaletteColors.map((c, i) => (
            <Bar key={i} dataKey={`b${i}`} stackId="z" fill={c} isAnimationActive={false} />
          ))}
        </BarChart>
      </div>

      {/* titles */}
      <svg width={1121} height={815} style={{ ...layer, pointerEvents: "none" }} fontFamily={FONT} fill="#000">
        <text x={153} y={37} fontSize={40} fontWeight="bold">CMS Simulation</text>
        <text x={802} y={38} fontSize={42}>√</text>
        <line x1={827} x2={853} y1={10} y2={10} stroke="#000" strokeWidth={2} />
        <text x={1003} y={37} fontSize={40} fontWeight="bold" textAnchor="end">s = 7 TeV</text>
        <text x={681} y={93} fontSize={31}>400 GeV gluino model</text>
        <text x={681} y={131} fontSize={31}>20 triplets/event</text>
        <text x={1003} y={787} fontSize={48.5} textAnchor="end">
          Triplet scalar p<tspan fontSize={32} dy={11}>T</tspan><tspan dy={-11}> (GeV)</tspan>
        </text>
        <text transform="translate(46,373) rotate(-90)" fontSize={48} textAnchor="middle">
          M<tspan fontSize={32} dy={11}>jjj</tspan><tspan dy={-11}> (GeV)</tspan>
        </text>
        <text x={778} y={321} fontSize={30} textAnchor="middle">QCD Simulation</text>
        <text x={934} y={660} fontSize={29.8} textAnchor="end">
          Triplet scalar p<tspan fontSize={20} dy={7}>T</tspan><tspan dy={-7}> (GeV)</tspan>
        </text>
        <text transform="translate(553,471) rotate(-90)" fontSize={30} textAnchor="middle">
          M<tspan fontSize={20} dy={7}>jjj</tspan><tspan dy={-7}> (GeV)</tspan>
        </text>
      </svg>
    </div>
  );
}
